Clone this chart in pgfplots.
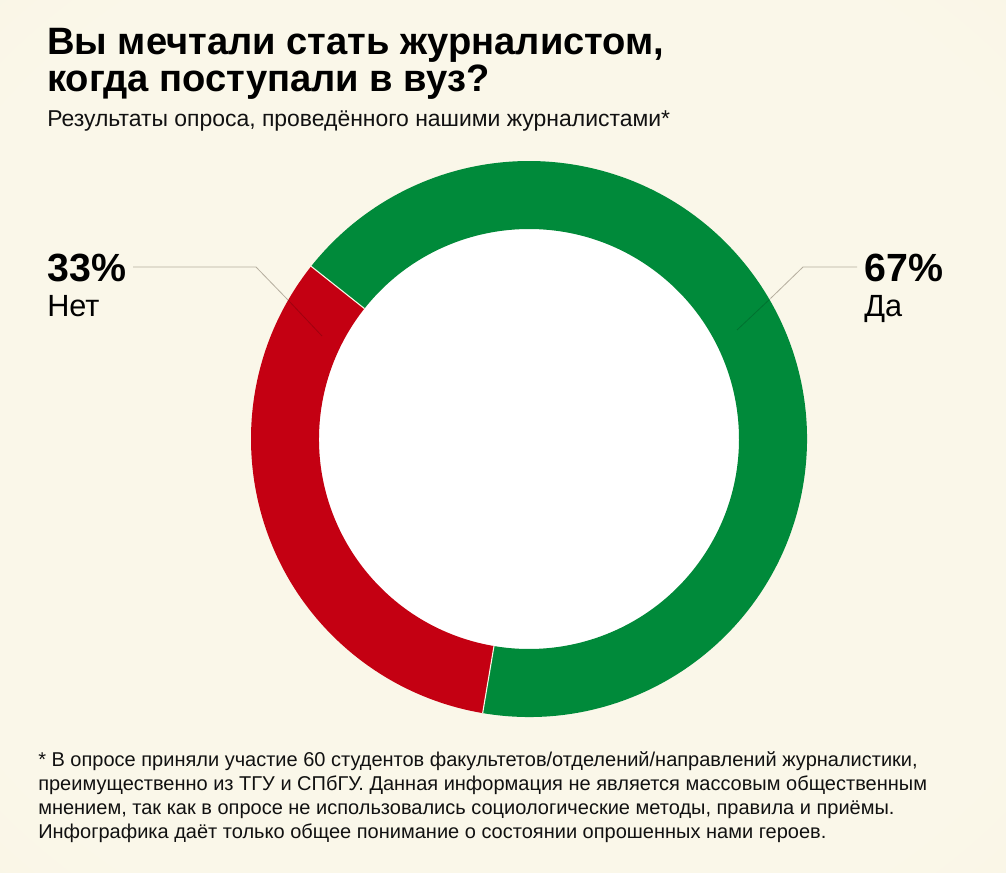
\documentclass[border=0pt]{standalone}
\usepackage{pgfplots}
\pgfplotsset{compat=1.18}
\usepackage{pgfplotstable}
\usepackage{fontspec}
\setmainfont{Liberation Sans}
\definecolor{bgin}{HTML}{FAF7E9}
\definecolor{bgout}{HTML}{F6F0DA}
\definecolor{sepcol}{HTML}{FBF8E8}
\definecolor{yesgreen}{HTML}{008A3A}
\definecolor{nored}{HTML}{C40012}
\definecolor{leader}{HTML}{B5AE9E}
\definecolor{txt}{HTML}{111111}
\pgfdeclareradialshading{bgshade}{\pgfpoint{0bp}{0bp}}{color(0bp)=(bgin); color(30bp)=(bgin); color(71bp)=(bgout)}
\pgfplotstableread{
answer value
yes 67
no 33
}\surveydata
\begin{document}
\begin{tikzpicture}
\pgfplotstablegetelem{0}{value}\of\surveydata\let\vyes\pgfplotsretval
\pgfplotstablegetelem{1}{value}\of\surveydata\let\vno\pgfplotsretval
\pgfmathsetmacro\astart{141.6}
\pgfmathsetmacro\amid{\astart+3.6*\vno}
\pgfmathsetmacro\aend{\amid+3.6*\vyes}
\def\Ro{208.5pt}
\def\Ri{157.5pt}
\begin{axis}[scale only axis, width=754.5pt, height=654.75pt,
  xmin=0, xmax=1006, ymin=0, ymax=873, y dir=reverse, hide axis, clip=false]
\fill[shading=bgshade] (axis cs:0,0) rectangle (axis cs:1006,873);
% donut
\fill[white] (axis cs:529,439) circle[radius=\Ri];
\fill[nored] ([shift={(\astart:\Ro)}]axis cs:529,439) arc[start angle=\astart, end angle=\amid, radius=\Ro]
  -- ([shift={(\amid:\Ri)}]axis cs:529,439) arc[start angle=\amid, end angle=\astart, radius=\Ri] -- cycle;
\fill[yesgreen] ([shift={(\amid:\Ro)}]axis cs:529,439) arc[start angle=\amid, end angle=\aend, radius=\Ro]
  -- ([shift={(\aend:\Ri)}]axis cs:529,439) arc[start angle=\aend, end angle=\amid, radius=\Ri] -- cycle;
\draw[sepcol, line width=0.8pt] ([shift={(\astart:\Ri)}]axis cs:529,439) -- ([shift={(\astart:\Ro)}]axis cs:529,439);
\draw[sepcol, line width=0.8pt] ([shift={(\amid:\Ri)}]axis cs:529,439) -- ([shift={(\amid:\Ro)}]axis cs:529,439);
% leader lines
\draw[leader, line width=0.6pt] (axis cs:133,267) -- (axis cs:256,267) -- (axis cs:288,300);
\draw[black, opacity=0.18, line width=0.6pt] (axis cs:288,300) -- (axis cs:322,336);
\draw[leader, line width=0.6pt] (axis cs:857,267) -- (axis cs:803,267) -- (axis cs:771,298);
\draw[black, opacity=0.18, line width=0.6pt] (axis cs:771,298) -- (axis cs:737,330);
% labels
\node[anchor=base west, inner sep=0, text=black, font=\bfseries\fontsize{29.5pt}{29.5pt}\selectfont] at (axis cs:47,282) {33\%};
\node[anchor=base west, inner sep=0, text=black, font=\fontsize{23pt}{23pt}\selectfont] at (axis cs:47,317) {Нет};
\node[anchor=base west, inner sep=0, text=black, font=\bfseries\fontsize{29.5pt}{29.5pt}\selectfont] at (axis cs:864,282) {67\%};
\node[anchor=base west, inner sep=0, text=black, font=\fontsize{23pt}{23pt}\selectfont] at (axis cs:864,317) {Да};
% title
\node[anchor=base west, inner sep=0, text=black, font=\bfseries\fontsize{28.6pt}{28.6pt}\selectfont] at (axis cs:47,55) {Вы мечтали стать журналистом,};
\node[anchor=base west, inner sep=0, text=black, font=\bfseries\fontsize{28.6pt}{28.6pt}\selectfont] at (axis cs:47,92) {когда поступали в вуз?};
\node[anchor=base west, inner sep=0, text=txt, font=\fontsize{17.2pt}{17.2pt}\selectfont] at (axis cs:47,127) {Результаты опроса, проведённого нашими журналистами*};
% footnote
\node[anchor=base west, inner sep=0, text=txt, font=\fontsize{15pt}{15pt}\selectfont] at (axis cs:38,766) {* В опросе приняли участие 60 студентов факультетов/отделений/направлений журналистики,};
\node[anchor=base west, inner sep=0, text=txt, font=\fontsize{15pt}{15pt}\selectfont] at (axis cs:38,790) {преимущественно из ТГУ и СПбГУ. Данная информация не является массовым общественным};
\node[anchor=base west, inner sep=0, text=txt, font=\fontsize{15pt}{15pt}\selectfont] at (axis cs:38,814) {мнением, так как в опросе не использовались социологические методы, правила и приёмы.};
\node[anchor=base west, inner sep=0, text=txt, font=\fontsize{15pt}{15pt}\selectfont] at (axis cs:38,838) {Инфографика даёт только общее понимание о состоянии опрошенных нами героев.};
\end{axis}
\end{tikzpicture}
\end{document}
